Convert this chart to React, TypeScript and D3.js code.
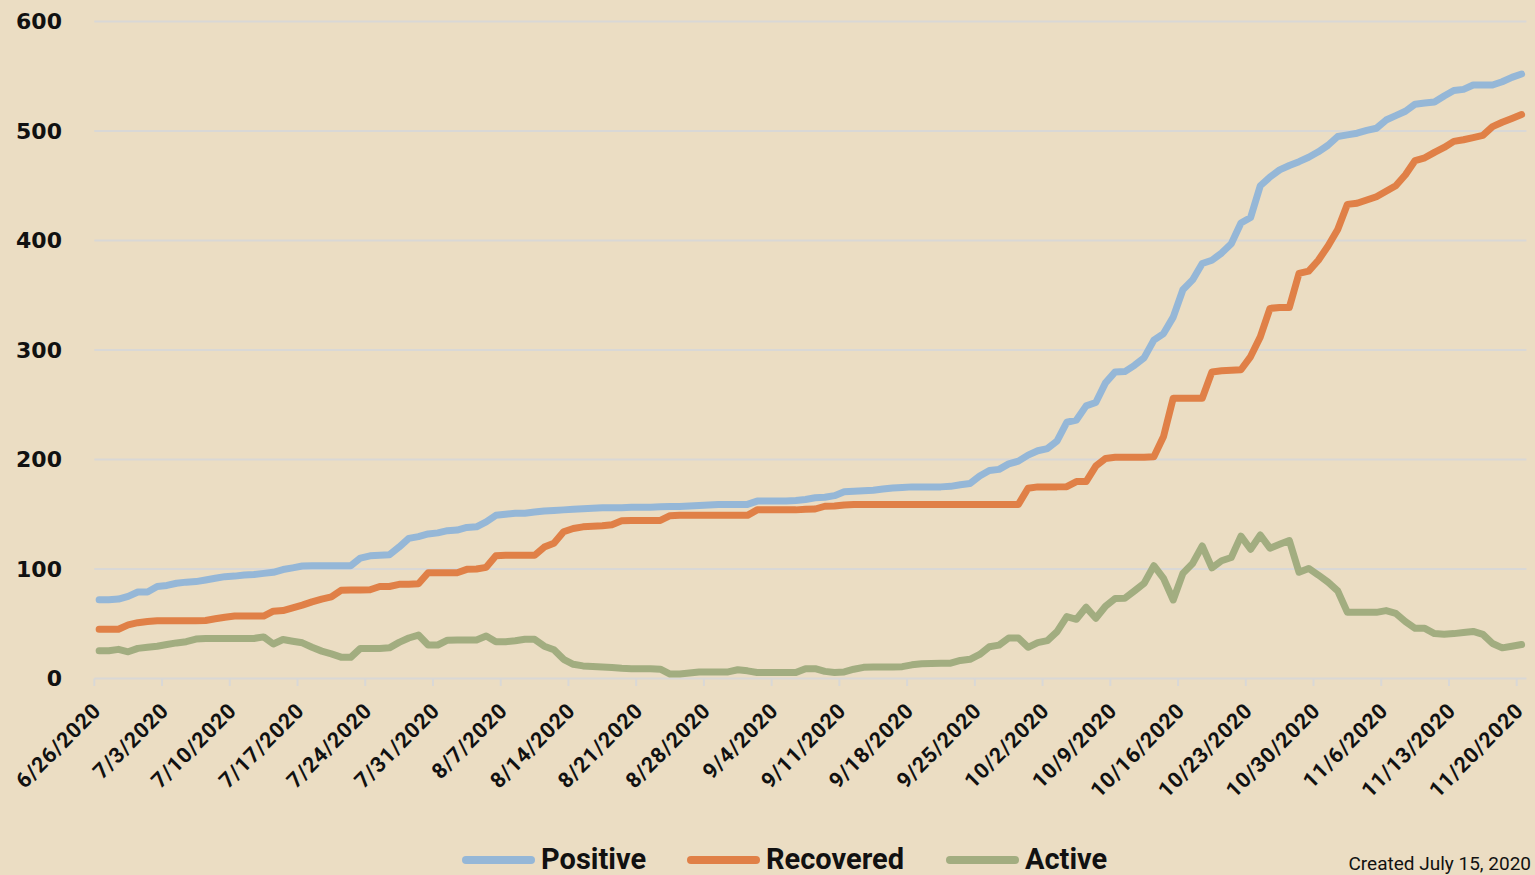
import React from 'react';
import * as d3 from 'd3';

// daily values, starting 6/26/2020
const startDate = '6/26/2020';
const endDate = '11/21/2020';

const tickLabels = [
  '6/26/2020', '7/3/2020', '7/10/2020', '7/17/2020', '7/24/2020', '7/31/2020',
  '8/7/2020', '8/14/2020', '8/21/2020', '8/28/2020', '9/4/2020', '9/11/2020',
  '9/18/2020', '9/25/2020', '10/2/2020', '10/9/2020', '10/16/2020', '10/23/2020',
  '10/30/2020', '11/6/2020', '11/13/2020', '11/20/2020',
];

const yTicks = [0, 100, 200, 300, 400, 500, 600];

const positive = [
  72, 72, 72.5, 75, 79, 79, 84, 85, 87, 88,
  88.5, 90, 91.5, 93, 93.5, 94.5, 95, 96, 97, 99.5,
  101, 102.7, 103, 103, 103, 103, 103, 110, 112, 112.5,
  113, 120, 128, 129.6, 132, 133, 135, 135.6, 138, 138.5,
  143, 149, 150, 151, 151, 152, 153, 153.5, 154, 154.5,
  155, 155.5, 156, 156, 156, 156.3, 156.5, 156.5, 156.8, 157,
  157, 157.5, 158, 158.5, 159, 159, 159, 159, 162, 162,
  162, 162, 162.5, 163.5, 165, 165.5, 167, 170.5, 171, 171.5,
  172, 173, 174, 174.5, 175, 175, 175, 175, 175.5, 177,
  178, 185, 190, 191, 196, 198.5, 204, 208, 210, 217,
  234, 236, 249, 252, 270, 280, 280.3, 286, 293, 309,
  315, 330, 355, 364, 379, 382, 388.5, 397, 416, 421,
  450, 458, 464.5, 468.5, 472, 476, 481, 487, 495, 496.5,
  498, 500.5, 502.5, 510, 514, 518, 524.5, 525.5, 526.5, 532,
  537, 538, 542, 542, 542, 545, 549, 552,
];

const recovered = [
  45, 45, 45, 49, 51, 52, 52.8, 52.8, 52.8, 52.8,
  52.8, 53, 54.5, 56, 57, 57, 57, 57, 61.5, 62,
  64.5, 67, 70, 72.5, 74.5, 80.5, 80.8, 80.8, 81, 84,
  84, 86, 86, 86.5, 96.6, 96.6, 96.6, 96.6, 99.7, 100,
  101.5, 112, 112.5, 112.5, 112.5, 112.5, 120, 123.5, 134, 137,
  138.5, 139, 139.5, 140.5, 144, 144.4, 144.4, 144.4, 144.4, 148.7,
  149, 149, 149, 149, 149, 149, 149, 149, 154, 154,
  154, 154, 154, 154.5, 154.8, 157.3, 157.5, 158.5, 159, 159,
  159, 159, 159, 159, 159, 159, 159, 159, 159, 159,
  159, 159, 159, 159, 159, 159, 173.7, 175, 175, 175,
  175.2, 179.8, 179.8, 194, 201, 202, 202, 202, 202, 202.5,
  221, 256, 256, 256, 256, 280, 281, 281.5, 282, 294,
  312, 338, 338.8, 338.8, 370, 372, 382, 395, 410, 433,
  434, 437, 440, 445, 450, 460, 473, 475.5, 480.5, 485,
  490.5, 492, 494, 496, 504, 508, 511.5, 515,
];

const active = [
  25.4, 25.4, 26.6, 24.4, 27.5, 28.5, 29.5, 31, 32.5, 33.6,
  36, 36.6, 36.6, 36.6, 36.6, 36.6, 36.6, 38, 31.5, 35.6,
  34, 32.6, 28.5, 25, 22.5, 19.5, 19.3, 27.5, 27.5, 27.5,
  28, 33, 37, 39.7, 30.6, 30.6, 35, 35.1, 35.1, 35.1,
  38.8, 33.6, 33.6, 34.5, 35.8, 35.8, 29.5, 26.3, 17.5, 13,
  11.5, 11, 10.5, 10, 9.3, 9, 9, 9, 8.5, 4.1,
  4.1, 5, 6, 6, 6, 6, 8, 7, 5.5, 5.5,
  5.5, 5.5, 5.5, 9, 9, 6.5, 5.5, 6, 8.5, 10.2,
  10.5, 10.5, 10.5, 10.8, 12.5, 13.5, 13.8, 14, 14, 16.5,
  17.5, 22, 29, 30.5, 37, 37, 28.5, 32.8, 34.6, 42.8,
  56.5, 54.1, 65, 55, 66, 73, 73.3, 80, 87, 103,
  91.5, 71.7, 96, 105, 121, 101, 107.5, 110.5, 130, 118,
  131, 119, 122.5, 126, 97, 100.5, 94.5, 88, 80, 60.4,
  60.4, 60.4, 60.4, 62, 59.5, 52, 45.8, 45.8, 41, 40.5,
  41, 42, 43, 40.3, 32, 28, 29.5, 31,
];

const seriesNames = ['Positive', 'Recovered', 'Active'];
const seriesColors = ['#95B7D7', '#E08047', '#A2AD80'];

const W = 1535;
const H = 875;
const BG = '#EBDDC3';
const GRID = '#D9D8D6';

const parse = d3.utcParse('%m/%d/%Y');

const App: React.FC = () => {
  const start = parse(startDate) as Date;
  const end = parse(endDate) as Date;

  // date axis, each day sits in the middle of its own slot
  const x = d3.scaleUtc().domain([start, end]).range([94.3, 1526.4]);
  const y = d3.scaleLinear().domain([0, 600]).range([678.5, 21.5]);

  const dayX = (i: number) => x(d3.utcHour.offset(d3.utcDay.offset(start, i), 12));

  const line = d3.line<number>()
    .x((_, i) => dayX(i))
    .y(d => y(d));

  const series = [positive, recovered, active];

  const legendX = [466, 691, 950];

  return (
    <svg width={W} height={H} style={{ position: 'absolute', left: 0, top: 0, display: 'block' }}>
      <rect width={W} height={H} fill={BG} />

      {/* gridlines */}
      {yTicks.map(t => (
        <line key={t} x1={x(start)} x2={x(end)} y1={y(t)} y2={y(t)} stroke={GRID} strokeWidth={2} />
      ))}

      {/* y labels */}
      {yTicks.map(t => (
        <text key={'yl' + t} x={62} y={y(t)} dy="0.36em" textAnchor="end"
          fontFamily="'DejaVu Sans', Verdana, sans-serif" fontWeight="bold" fontSize={22} fill="#111">
          {t}
        </text>
      ))}

      {/* x ticks and labels */}
      {tickLabels.map(lbl => {
        const tx = x(parse(lbl) as Date);
        return (
          <g key={lbl}>
            <line x1={tx} x2={tx} y1={678.5} y2={686} stroke={GRID} strokeWidth={2} />
            <text transform={`translate(${tx + 8},${712}) rotate(-45)`} textAnchor="end"
              fontFamily="Roboto, sans-serif" fontWeight="bold" fontSize={21.5} letterSpacing={0.8}
              fill="#111">
              {lbl}
            </text>
          </g>
        );
      })}

      {/* lines */}
      {series.map((s, k) => (
        <path key={seriesNames[k]} d={line(s) || ''} fill="none" stroke={seriesColors[k]}
          strokeWidth={7} strokeLinejoin="round" strokeLinecap="round" />
      ))}

      {/* legend */}
      {seriesNames.map((name, k) => (
        <g key={'lg' + name}>
          <line x1={legendX[k]} x2={legendX[k] + 65} y1={860} y2={860} stroke={seriesColors[k]}
            strokeWidth={8} strokeLinecap="round" />
          <text x={legendX[k] + 75} y={869} fontFamily="Roboto, sans-serif" fontWeight="bold"
            fontSize={29} fill="#111">
            {name}
          </text>
        </g>
      ))}

      <text x={1531} y={870} textAnchor="end" fontFamily="Roboto, sans-serif" fontSize={19} fill="#111">
        Created July 15, 2020
      </text>
    </svg>
  );
};

export default App;
